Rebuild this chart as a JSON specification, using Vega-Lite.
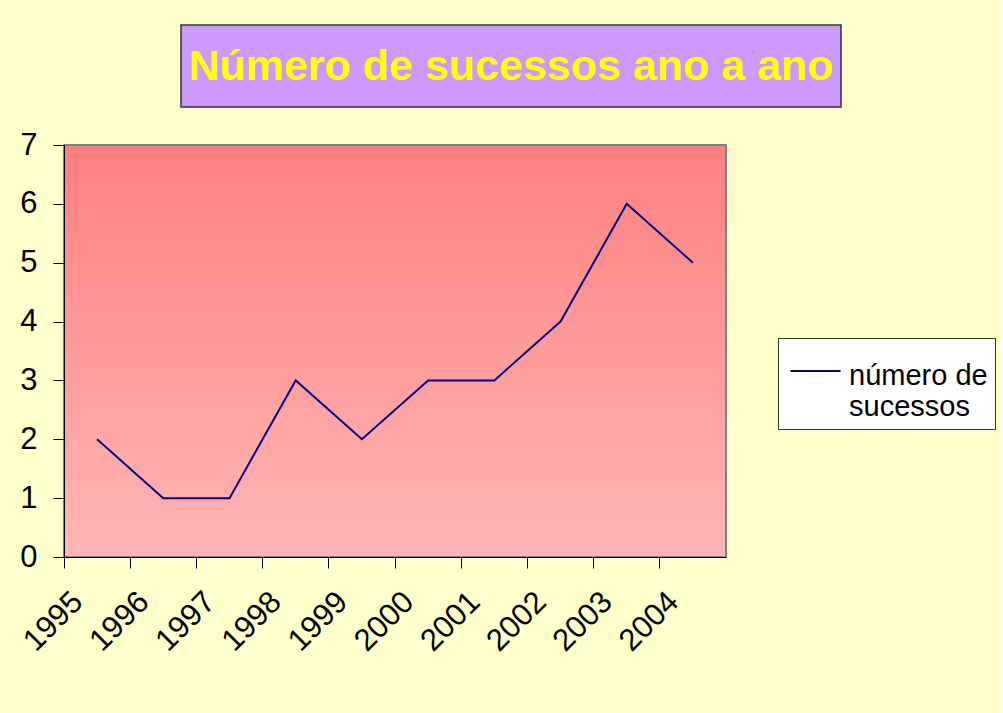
{
  "$schema": "https://vega.github.io/schema/vega-lite/v6.json",
  "background": "#FFFFCC",
  "padding": {"left": 16, "top": 24, "right": 6, "bottom": 56},
  "spacing": 20,
  "datasets": {
    "titulo": [{"texto": "Número de sucessos ano a ano", "px": 0.5, "py": 0.5}],
    "serie": [
      {"ano": "1995", "valor": 2, "serie": "número de sucessos"},
      {"ano": "1996", "valor": 1, "serie": "número de sucessos"},
      {"ano": "1997", "valor": 1, "serie": "número de sucessos"},
      {"ano": "1998", "valor": 3, "serie": "número de sucessos"},
      {"ano": "1999", "valor": 2, "serie": "número de sucessos"},
      {"ano": "2000", "valor": 3, "serie": "número de sucessos"},
      {"ano": "2001", "valor": 3, "serie": "número de sucessos"},
      {"ano": "2002", "valor": 4, "serie": "número de sucessos"},
      {"ano": "2003", "valor": 6, "serie": "número de sucessos"},
      {"ano": "2004", "valor": 5, "serie": "número de sucessos"}
    ]
  },
  "vconcat": [
    {
      "spacing": 16,
      "hconcat": [
        {
          "width": 100,
          "height": 82,
          "view": {"stroke": null},
          "data": {"values": [{"v": 0}]},
          "mark": {"type": "point", "opacity": 0},
          "encoding": {}
        },
        {
          "width": 660,
          "height": 82,
          "view": {"fill": "#CC99FF", "stroke": "#333333", "strokeWidth": 1.5},
          "data": {"name": "titulo"},
          "mark": {
            "type": "text",
            "font": "Liberation Sans",
            "fontWeight": "bold",
            "fontSize": 43,
            "color": "#FFFF00",
            "align": "center",
            "baseline": "middle",
            "dy": 1
          },
          "encoding": {
            "text": {"field": "texto"},
            "x": {"field": "px", "type": "quantitative", "scale": {"domain": [0, 1]}, "axis": null},
            "y": {"field": "py", "type": "quantitative", "scale": {"domain": [0, 1]}, "axis": null}
          }
        }
      ]
    },
    {
      "width": 662,
      "height": 412,
      "view": {
        "fill": {
          "gradient": "linear",
          "x1": 0, "y1": 0, "x2": 0, "y2": 1,
          "stops": [
            {"offset": 0, "color": "#FF8080"},
            {"offset": 1, "color": "#FFB6B6"}
          ]
        },
        "stroke": "#808080",
        "strokeWidth": 2
      },
      "data": {"name": "serie"},
      "mark": {"type": "line", "color": "#000080", "strokeWidth": 2},
      "encoding": {
        "x": {
          "field": "ano",
          "type": "ordinal",
          "scale": {"type": "band", "paddingInner": 0, "paddingOuter": 0},
          "axis": {
            "title": null,
            "labelAngle": -45,
            "labelAlign": "right",
            "labelBaseline": "middle",
            "labelFont": "Liberation Sans",
            "labelFontSize": 31,
            "labelColor": "#000000",
            "labelPadding": 29,
            "labelOffset": -19,
            "bandPosition": 0,
            "tickSize": 11,
            "tickColor": "#000000",
            "domainColor": "#000000",
            "grid": false
          }
        },
        "y": {
          "field": "valor",
          "type": "quantitative",
          "scale": {"domain": [0, 7], "nice": false},
          "axis": {
            "title": null,
            "values": [0, 1, 2, 3, 4, 5, 6, 7],
            "labelFont": "Liberation Sans",
            "labelFontSize": 31,
            "labelColor": "#000000",
            "labelPadding": 16,
            "tickSize": 11,
            "tickColor": "#000000",
            "domainColor": "#000000",
            "grid": false
          }
        },
        "color": {
          "field": "serie",
          "type": "nominal",
          "scale": {"range": ["#000080"]},
          "legend": {
            "title": null,
            "orient": "none",
            "legendX": 714,
            "legendY": 313,
            "fillColor": "#FFFFFF",
            "strokeColor": "#333333",
            "padding": 7,
            "symbolType": "M-0.72,0.5625H2.41",
            "symbolSize": 1024,
            "symbolStrokeWidth": 2,
            "labelFont": "Liberation Sans",
            "labelFontSize": 29,
            "labelColor": "#000000",
            "labelBaseline": "top",
            "labelOffset": 30,
            "labelExpr": "['número de', 'sucessos']",
            "labelLimit": 300
          }
        }
      }
    }
  ]
}
